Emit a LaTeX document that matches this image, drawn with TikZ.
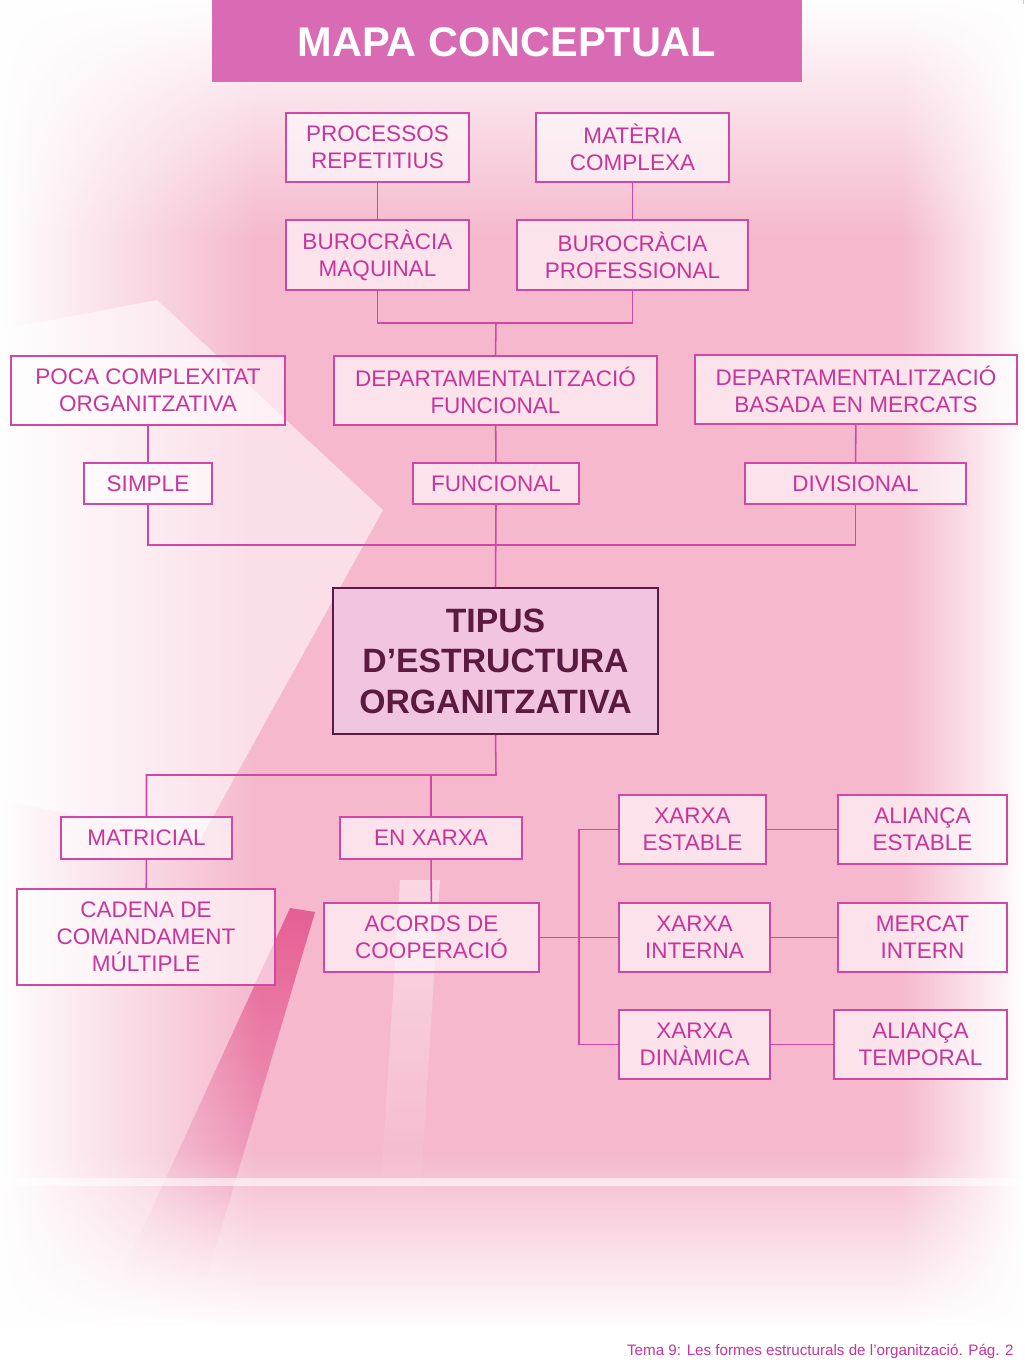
\documentclass[tikz,border=0pt]{standalone}
\usepackage{fontspec}
\setmainfont{Liberation Sans}
\usetikzlibrary{calc,positioning,fadings}
\definecolor{titlepink}{HTML}{D96BB5}
\definecolor{boxline}{HTML}{D147A6}
\definecolor{boxtext}{HTML}{C7359B}
\definecolor{darkplum}{HTML}{5B1B40}
\definecolor{bgpink}{HTML}{F5B8CD}
\definecolor{corepink}{HTML}{F1C4E0}
\definecolor{hotpink}{HTML}{E2508A}
\tikzset{
    wh/.style args={#1 #2}{minimum width=#1*0.025cm, minimum height=#2*0.025cm},
    concept/.style={draw=boxline, line width=1.1pt, fill=white, fill opacity=0.6,
        text opacity=1, text=boxtext, align=center, inner sep=0pt,
        font=\fontsize{16}{19.2}\selectfont},
    core/.style={draw=darkplum, line width=1.2pt, fill=corepink, text=darkplum,
        align=center, inner sep=0pt, font=\fontsize{24}{28.8}\selectfont\bfseries},
    link/.style={draw=boxline, line width=1.1pt}
}
\begin{document}
\begin{tikzpicture}[x=0.025cm, y=-0.025cm]
    \useasboundingbox (0,0) rectangle (1024,1365);
    % background
    \fill[bgpink] (0,0) rectangle (1024,1365);
    \fill[white, opacity=0.55] (0,330) -- (157,300) -- (383,510) -- (200,840) -- (0,800) -- cycle;
    \fill[hotpink, opacity=0.85, path fading=south] (290,908) -- (315,912) -- (200,1300) -- (110,1300) -- cycle;
    \fill[white, opacity=0.45, path fading=south] (400,880) -- (440,880) -- (420,1200) -- (380,1200) -- cycle;
    \fill[white, opacity=0.6] (0,1178) rectangle (1024,1186);
    \fill[white, path fading=east] (0,0) rectangle (260,1365);
    \fill[white, path fading=south] (0,0) rectangle (1024,240);
    \fill[white, path fading=west] (900,0) rectangle (1024,1365);
    \fill[white, path fading=north] (0,1150) rectangle (1024,1330);
    \fill[white] (0,1325) rectangle (1024,1365);
    % title
    \fill[titlepink] (212,0) rectangle (802,82);
    \node[text=white, font=\fontsize{29.5}{34}\selectfont\bfseries] (title) at (507,42) {MAPA CONCEPTUAL};
    % upper boxes
    \node[concept, wh={183 69}] (procrep) at (377.5,147.5) {PROCESSOS\\REPETITIUS};
    \node[concept, wh={193 69}] (matcomp) at (632.5,147.5) {MATÈRIA\\COMPLEXA};
    \node[concept, wh={183 70}] (burmaq) at (377.5,255) {BUROCRÀCIA\\MAQUINAL};
    \node[concept, wh={231 70}] (burprof) at (632.5,255) {BUROCRÀCIA\\PROFESSIONAL};
    \node[concept, wh={274 69}] (poca) at (148,390.5) {POCA COMPLEXITAT\\ORGANITZATIVA};
    \node[concept, wh={323 69}] (depfun) at (495.5,390.5) {DEPARTAMENTALITZACIÓ\\FUNCIONAL};
    \node[concept, wh={322 69}] (depmer) at (856,389.5) {DEPARTAMENTALITZACIÓ\\BASADA EN MERCATS};
    \node[concept, wh={128 41}] (simple) at (148,483.5) {SIMPLE};
    \node[concept, wh={166 41}] (funcional) at (496,483.5) {FUNCIONAL};
    \node[concept, wh={221 41}] (divisional) at (855.5,483.5) {DIVISIONAL};
    % centre
    \node[core, wh={325 146}] (tipus) at (495.5,661) {TIPUS\\D’ESTRUCTURA\\ORGANITZATIVA};
    % lower boxes
    \node[concept, wh={171 42}] (matricial) at (146.5,838) {MATRICIAL};
    \node[concept, wh={182 42}] (enxarxa) at (431,838) {EN XARXA};
    \node[concept, wh={258 96}] (cadena) at (146,937) {CADENA DE\\COMANDAMENT\\MÚLTIPLE};
    \node[concept, wh={215 69}] (acords) at (431.5,937.5) {ACORDS DE\\COOPERACIÓ};
    \node[concept, wh={147 69}] (xestable) at (692.5,829.5) {XARXA\\ESTABLE};
    \node[concept, wh={169 69}] (aestable) at (922.5,829.5) {ALIANÇA\\ESTABLE};
    \node[concept, wh={151 69}] (xinterna) at (694.5,937.5) {XARXA\\INTERNA};
    \node[concept, wh={169 69}] (mintern) at (922.5,937.5) {MERCAT\\INTERN};
    \node[concept, wh={151 69}] (xdinamica) at (694.5,1044.5) {XARXA\\DINÀMICA};
    \node[concept, wh={173 69}] (atemporal) at (920.5,1044.5) {ALIANÇA\\TEMPORAL};
    % junctions
    \coordinate (j1) at (496,323);
    \coordinate (j2) at (496,545);
    \coordinate (j3) at (496,775);
    \coordinate (bus) at (579,937.5);
    % connectors
    \draw[link] (procrep) -- (burmaq);
    \draw[link] (matcomp) -- (burprof);
    \draw[link] (burmaq.south) |- (j1) -| (burprof.south);
    \draw[link] (j1) -- (depfun.north);
    \draw[link] (poca) -- (simple);
    \draw[link] (depfun) -- (funcional);
    \draw[link] (depmer) -- (divisional);
    \draw[link] (simple.south) |- (j2) -| (divisional.south);
    \draw[link] (funcional.south) -- (tipus.north);
    \draw[link] (tipus.south) -- (j3) -| (matricial.north);
    \draw[link] (enxarxa.north) -- (enxarxa.north |- j3);
    \draw[link] (matricial) -- (cadena);
    \draw[link] (enxarxa) -- (acords);
    \draw[link] (acords.east) -- (xinterna.west);
    \draw[link] (xestable.west) -| (bus) |- (xdinamica.west);
    \draw[link] (xestable) -- (aestable);
    \draw[link] (xinterna) -- (mintern);
    \draw[link] (xdinamica) -- (atemporal);
    % footer
    \node[anchor=east, text=boxtext, inner sep=0pt, font=\fontsize{10.8}{12}\selectfont] (foot) at (1014,1351) {Tema 9: Les formes estructurals de l’organització. Pág. 2};
\end{tikzpicture}
\end{document}
